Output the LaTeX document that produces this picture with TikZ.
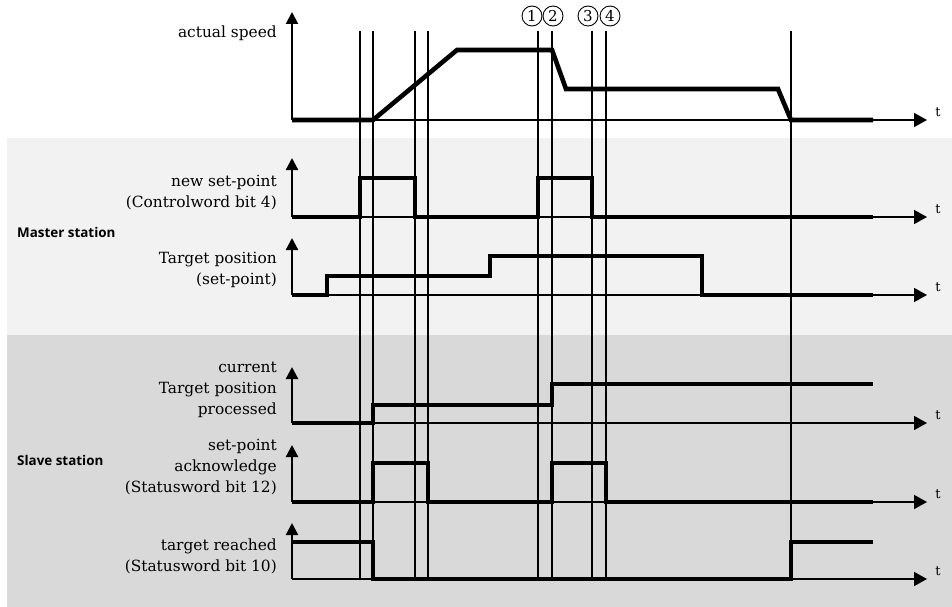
\documentclass[tikz,border=0pt]{standalone}
\usepackage{fontspec}
\setmainfont{DejaVu Serif}
\newfontfamily\stationfont{Open Sans}
\usetikzlibrary{arrows.meta}
\definecolor{masterbg}{HTML}{F2F2F2}
\definecolor{slavebg}{HTML}{D9D9D9}
\tikzset{
  sig/.style={line width=4.6pt, line join=miter},
  gridline/.style={line width=1.3pt},
  yaxis/.style={line width=2.2pt, -{Triangle[length=12pt,width=12pt]}},
  taxis/.style={line width=1.6pt, -{Triangle[length=13pt,width=14pt]}},
  lbl/.style={anchor=east, align=right, inner sep=0pt, font={\fontsize{15.4}{21}\selectfont}},
  tlbl/.style={inner sep=0pt, font={\fontsize{13}{13}\selectfont}},
  station/.style={anchor=west, inner sep=0pt, font={\stationfont\bfseries\fontsize{13.4}{15}\selectfont}},
  num/.style={circle, draw, line width=0.9pt, minimum size=20pt, inner sep=0pt, font={\fontsize{15}{15}\selectfont}}
}
\begin{document}
\begin{tikzpicture}[x=1pt,y=-1pt]
\useasboundingbox (0,0) rectangle (952,607);
\fill[white] (0,0) rectangle (952,607);
\fill[masterbg] (7,138) rectangle (952,335);
\fill[slavebg] (7,335) rectangle (952,607);

% vertical reference lines
\foreach \n/\x in {a/360,b/373,c/415,d/428,e/538,f/552,g/592,h/606,i/791}{
  \coordinate (top\n) at (\x,31);
  \coordinate (bot\n) at (\x,579);
  \draw[gridline] (top\n) -- (bot\n);
}

% axes
\foreach \k/\b/\tip in {1/120/12, 2/217/158, 3/295/238, 4/423/367, 5/502/445, 6/579/523}{
  \coordinate (o\k) at (292,\b);
  \coordinate (ytip\k) at (292,\tip);
  \coordinate (tend\k) at (927,\b);
  \draw[taxis] (o\k) -- (tend\k);
  \draw[yaxis] (o\k) -- (ytip\k);
  \node[tlbl] (t\k) at (938,\b-8) {t};
}

% signals
\draw[sig] (292,120) -- (373,120) -- (457,50) -- (552,50) -- (566,89) -- (778,89) -- (791,120) -- (873,120);
\draw[sig] (292,217) -- (360,217) -- (360,178) -- (415,178) -- (415,217) -- (538,217) -- (538,178) -- (592,178) -- (592,217) -- (873,217);
\draw[sig] (292,295) -- (327,295) -- (327,276) -- (490,276) -- (490,256) -- (702,256) -- (702,295) -- (873,295);
\draw[sig] (292,423) -- (373,423) -- (373,405) -- (552,405) -- (552,384) -- (873,384);
\draw[sig] (292,502) -- (373,502) -- (373,463) -- (428,463) -- (428,502) -- (552,502) -- (552,463) -- (606,463) -- (606,502) -- (873,502);
\draw[sig] (292,542) -- (373,542) -- (373,579) -- (791,579) -- (791,542) -- (873,542);

% signal labels
\node[lbl] (lspeed) at (277,33) {actual speed};
\node[lbl] (lnew) at (277,192.5) {new set-point\\(Controlword bit 4)};
\node[lbl] (ltarget) at (277,270) {Target position\\(set-point)};
\node[lbl] (lcurrent) at (277,389.5) {current\\Target position\\processed};
\node[lbl] (lack) at (277,467.5) {set-point\\acknowledge\\(Statusword bit 12)};
\node[lbl] (lreached) at (277,556) {target reached\\(Statusword bit 10)};

% station labels
\node[station] (master) at (17,232) {Master station};
\node[station] (slave) at (17,460) {Slave station};

% circled numbers
\node[num] (c1) at (532,16) {1};
\node[num] (c2) at (553,16) {2};
\node[num] (c3) at (588,16) {3};
\node[num] (c4) at (610,16) {4};
\end{tikzpicture}
\end{document}
